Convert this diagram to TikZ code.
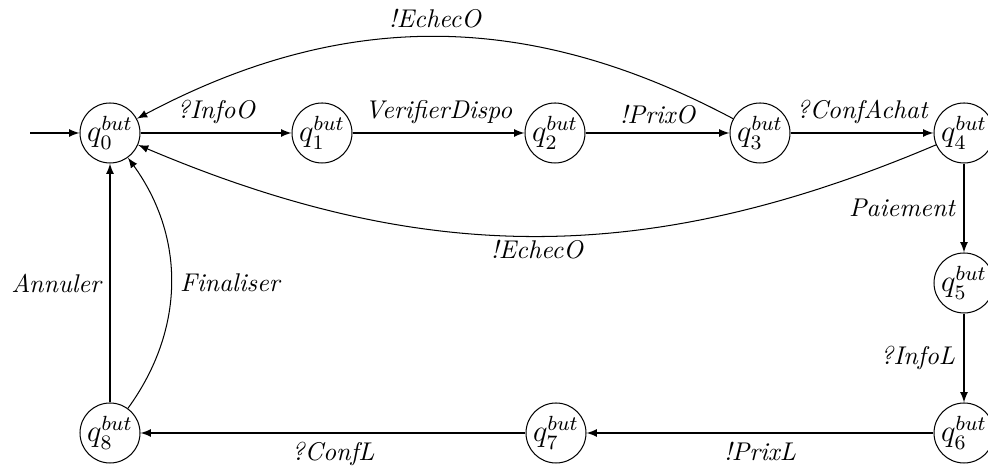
\documentclass[tikz,border=0pt]{standalone}
\usetikzlibrary{arrows}
\begin{document}
\begin{tikzpicture}[x=0.39pt,y=-0.39pt,>=latex,
  state/.style={circle,draw,minimum size=23.4pt,inner sep=0pt,font=\large},
  lbl/.style={font=\itshape}]
\useasboundingbox (0,0) rectangle (988,470);
\node[state] (q0) at (110,133) {$q_0^{but}$};
\node[state] (q1) at (322,133) {$q_1^{but}$};
\node[state] (q2) at (555,133) {$q_2^{but}$};
\node[state] (q3) at (760,133) {$q_3^{but}$};
\node[state] (q4) at (964,133) {$q_4^{but}$};
\node[state] (q5) at (964,283) {$q_5^{but}$};
\node[state] (q6) at (964,433) {$q_6^{but}$};
\node[state] (q7) at (556,433) {$q_7^{but}$};
\node[state] (q8) at (110,433) {$q_8^{but}$};
\coordinate (init) at (30,133);
\draw[->] (init) -- (q0);
\draw[->] (q0) -- node[above,lbl] {?InfoO} (q1);
\draw[->] (q1) -- node[above,lbl] {VerifierDispo} (q2);
\draw[->] (q2) -- node[above,lbl] {!PrixO} (q3);
\draw[->] (q3) -- node[above,lbl] {?ConfAchat} (q4);
\draw[->] (q4) -- node[left,lbl] {Paiement} (q5);
\draw[->] (q5) -- node[left,lbl] {?InfoL} (q6);
\draw[->] (q6) -- node[below,lbl] {!PrixL} (q7);
\draw[->] (q7) -- node[below,lbl] {?ConfL} (q8);
\draw[->] (q8) -- node[left,lbl] {Annuler} (q0);
\draw[->] (q8) to[bend right=36] node[right,lbl] {Finaliser} (q0);
\draw[->] (q3) to[bend right=28] node[above,lbl] {!EchecO} (q0);
\draw[->] (q4) to[bend left=23] node[below,inner sep=1.5pt,lbl] {!EchecO} (q0);
\end{tikzpicture}
\end{document}
